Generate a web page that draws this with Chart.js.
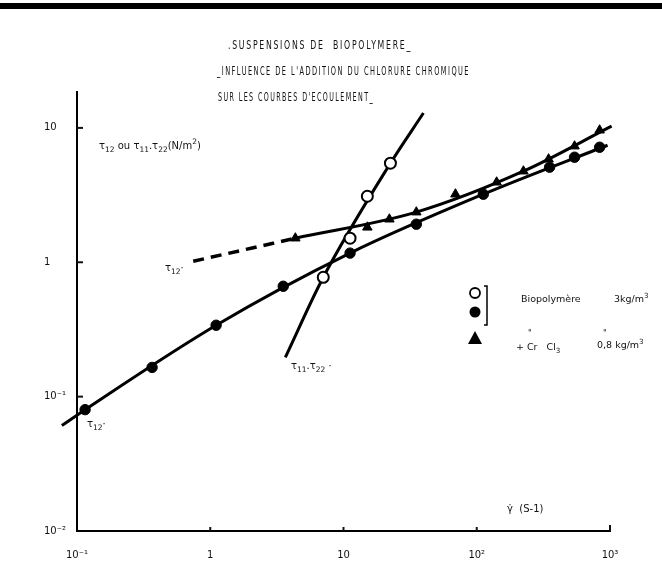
<!DOCTYPE html>
<html>
<head>
<meta charset="utf-8">
<script src="https://cdn.jsdelivr.net/npm/chart.js@4"></script>
<style>
html,body{margin:0;padding:0;background:#fff;}
#wrap{width:662px;height:564px;position:relative;}
</style>
</head>
<body>
<div id="wrap"><canvas id="c" width="662" height="564"></canvas></div>
<script>
// ---- data ----
const xTickValues = [0.1, 1, 10, 100, 1000];
const xTickLabels = ['10\u207B\u00B9', '1', '10', '10\u00B2', '10\u00B3'];
const yTickValues = [0.01, 0.1, 1, 10];
const yTickLabels = ['10\u207B\u00B2', '10\u207B\u00B9', '1', '10'];

// open circles : tau11 - tau22, biopolymer 3 kg/m3
const rateOpen = [7.05, 11.2, 15.1, 22.5];
const stressOpen = [0.773, 1.51, 3.10, 5.46];
const rateOpenCurve = [3.66, 7.05, 22.5, 39.8];
const stressOpenCurve = [0.196, 0.773, 5.46, 12.9];

// filled circles : tau12, biopolymer 3 kg/m3
const rateFilled = [0.115, 0.366, 1.107, 3.53, 11.2, 35.2, 112, 352, 542, 836];
const stressFilled = [0.080, 0.165, 0.340, 0.663, 1.17, 1.92, 3.21, 5.10, 6.05, 7.18];
const rateFilledCurve = [0.077, 0.115, 1.107, 11.2, 112, 959];
const stressFilledCurve = [0.061, 0.080, 0.340, 1.17, 3.21, 7.43];

// triangles : tau12, biopolymer + CrCl3 0.8 kg/m3
const rateTri = [4.35, 15.1, 22.1, 35.2, 69.2, 141, 224, 346, 542, 836];
const stressTri = [1.51, 1.82, 2.09, 2.36, 3.21, 3.94, 4.76, 5.85, 7.31, 9.61];
const rateTriCurve = [4.35, 35.2, 224, 1028];
const stressTriCurve = [1.51, 2.36, 4.76, 10.3];
const rateTriDashed = [0.745, 4.35];
const stressTriDashed = [1.017, 1.51];

const titleLines = ['.SUSPENSIONS DE  BIOPOLYMERE_', '_INFLUENCE DE L\'ADDITION DU CHLORURE CHROMIQUE', 'SUR LES COURBES D\'ECOULEMENT_'];

function pts(xs, ys){ return xs.map((x,i)=>({x:x, y:ys[i]})); }

const FONT = '"DejaVu Sans", "Liberation Sans", sans-serif';
const TFONT = '"DejaVu Sans", "Liberation Sans", sans-serif';
const INK = '#111';

function richText(ctx, x, y, segs, size, align){
  ctx.textBaseline = 'middle';
  ctx.textAlign = 'left';
  let w = 0;
  segs.forEach(s=>{
    const fs = (s.sub||s.sup) ? size*0.75 : size;
    ctx.font = fs + 'px ' + FONT;
    w += ctx.measureText(s.t).width;
  });
  let cx = align === 'center' ? x - w/2 : x;
  segs.forEach(s=>{
    const fs = (s.sub||s.sup) ? size*0.75 : size;
    ctx.font = fs + 'px ' + FONT;
    const dy = s.sub ? size*0.38 : (s.sup ? -size*0.42 : 0);
    ctx.fillText(s.t, cx, y+dy);
    cx += ctx.measureText(s.t).width;
  });
}

// draw a title line between x1 and x2: letters spaced, glyphs squeezed horizontally
function fitText(ctx, text, x1, x2, y, size){
  ctx.save();
  ctx.font = size + 'px ' + TFONT;
  ctx.textBaseline = 'middle';
  ctx.textAlign = 'left';
  ctx.letterSpacing = (size*0.22).toFixed(2) + 'px';
  const w = ctx.measureText(text).width;
  const sx = (x2 - x1) / w;
  ctx.translate(x1, y);
  ctx.scale(sx, 1);
  ctx.fillText(text, 0, 0);
  ctx.restore();
}

const decor = {
  id: 'decor',
  beforeDraw(chart){
    const ctx = chart.ctx;
    ctx.save();
    ctx.fillStyle = '#fff';
    ctx.fillRect(0,0,chart.width,chart.height);
    ctx.restore();
  },
  afterDraw(chart){
    const ctx = chart.ctx;
    const xs = chart.scales.x, ys = chart.scales.y;
    const ca = chart.chartArea;
    ctx.save();
    ctx.strokeStyle = INK;
    // top thick rule
    ctx.fillStyle = '#000';
    ctx.fillRect(0, 3, chart.width, 6);
    ctx.fillStyle = INK;

    // title
    fitText(ctx, titleLines[0], 228, 412, 46, 12);
    fitText(ctx, titleLines[1], 217, 470, 72, 12);
    fitText(ctx, titleLines[2], 218, 374, 98, 12);

    // axis ticks (inward)
    ctx.lineWidth = 2;
    [0.1, 1, 10].forEach(v=>{
      const py = ys.getPixelForValue(v);
      ctx.beginPath(); ctx.moveTo(ca.left, py); ctx.lineTo(ca.left+6, py); ctx.stroke();
    });
    [1, 10, 100].forEach(v=>{
      const px = xs.getPixelForValue(v);
      ctx.beginPath(); ctx.moveTo(px, ca.bottom); ctx.lineTo(px, ca.bottom-4); ctx.stroke();
    });
    const pxe = xs.getPixelForValue(1000);
    ctx.beginPath(); ctx.moveTo(pxe, ca.bottom); ctx.lineTo(pxe, ca.bottom-6); ctx.stroke();

    // axis titles and curve labels
    richText(ctx, 99, 146, [{t:'\u03C4'},{t:'12',sub:true},{t:' ou '},{t:'\u03C4'},{t:'11',sub:true},{t:'.'},{t:'\u03C4'},{t:'22',sub:true},{t:'(N/m'},{t:'2',sup:true},{t:')'}], 10);
    richText(ctx, 165, 268, [{t:'\u03C4'},{t:'12',sub:true},{t:'\u00B7'}], 10);
    richText(ctx, 87, 424, [{t:'\u03C4'},{t:'12',sub:true},{t:'\u00B7'}], 10);
    richText(ctx, 291, 366, [{t:'\u03C4'},{t:'11',sub:true},{t:'.'},{t:'\u03C4'},{t:'22',sub:true},{t:' \u00B7'}], 10);
    richText(ctx, 507, 509, [{t:'\u03B3\u0307'},{t:'  (S-1)'}], 10);

    // legend
    ctx.lineWidth = 1.8;
    ctx.strokeStyle = '#000';
    ctx.fillStyle = '#fff';
    ctx.beginPath(); ctx.arc(475, 293, 5, 0, Math.PI*2); ctx.fill(); ctx.stroke();
    ctx.fillStyle = '#000';
    ctx.beginPath(); ctx.arc(475, 312, 5.5, 0, Math.PI*2); ctx.fill();
    ctx.beginPath(); ctx.moveTo(475, 331); ctx.lineTo(482, 344); ctx.lineTo(468, 344); ctx.closePath(); ctx.fill();
    ctx.lineWidth = 1.5;
    ctx.beginPath(); ctx.moveTo(484, 286); ctx.lineTo(487, 286); ctx.lineTo(487, 325); ctx.lineTo(484, 325); ctx.stroke();
    ctx.fillStyle = INK;
    richText(ctx, 521, 300, [{t:'Biopolym\u00E8re'}], 9.5);
    richText(ctx, 614, 300, [{t:'3kg/m'},{t:'3',sup:true}], 9.5);
    richText(ctx, 528, 334, [{t:'"'}], 8);
    richText(ctx, 603, 334, [{t:'"'}], 8);
    richText(ctx, 516, 348, [{t:'+ Cr   Cl'},{t:'3',sub:true}], 9.5);
    richText(ctx, 597, 346, [{t:'0,8 kg/m'},{t:'3',sup:true}], 9.5);
    ctx.restore();
  }
};

const lineStyle = {showLine:true, pointRadius:0, borderColor:'#000', borderWidth:3, fill:false, clip:false, cubicInterpolationMode:'monotone'};

new Chart(document.getElementById('c'), {
  type: 'scatter',
  data: {
    datasets: [
      {label:'open', data: pts(rateOpen, stressOpen), pointStyle:'circle', pointRadius:5.5, pointBackgroundColor:'#fff', pointBorderColor:'#000', pointBorderWidth:2, showLine:false, clip:false},
      {label:'filled', data: pts(rateFilled, stressFilled), pointStyle:'circle', pointRadius:5.2, pointBackgroundColor:'#000', pointBorderColor:'#000', pointBorderWidth:1, showLine:false, clip:false},
      {label:'tri', data: pts(rateTri, stressTri), pointStyle:'triangle', pointRadius:5.5, pointBackgroundColor:'#000', pointBorderColor:'#000', pointBorderWidth:1, showLine:false, clip:false},
      Object.assign({label:'openCurve', data: pts(rateOpenCurve, stressOpenCurve)}, lineStyle),
      Object.assign({label:'filledCurve', data: pts(rateFilledCurve, stressFilledCurve)}, lineStyle),
      Object.assign({label:'triCurve', data: pts(rateTriCurve, stressTriCurve)}, lineStyle),
      Object.assign({label:'triDashed', data: pts(rateTriDashed, stressTriDashed)}, lineStyle, {borderWidth:3.5, borderDash:[11,7]})
    ]
  },
  options: {
    responsive:false,
    animation:false,
    devicePixelRatio:1,
    layout:{padding:{left:44, top:92, right:52, bottom:0}},
    plugins:{legend:{display:false}, tooltip:{enabled:false}, title:{display:false}},
    scales:{
      x:{
        type:'logarithmic', min:0.1, max:1000,
        afterBuildTicks(s){ s.ticks = xTickValues.map(v=>({value:v})); },
        afterFit(s){ s.height = 33; },
        grid:{display:true, drawOnChartArea:false, drawTicks:false},
        border:{display:true, color:'#000', width:2},
        ticks:{padding:18, color:INK, font:{family:FONT, size:10}, maxRotation:0, autoSkip:false,
          callback(v){ const i = xTickValues.indexOf(v); return i>=0 ? xTickLabels[i] : ''; }}
      },
      y:{
        type:'logarithmic', min:0.01, max:18.5,
        afterBuildTicks(s){ s.ticks = yTickValues.map(v=>({value:v})); },
        afterFit(s){ s.width = 33; },
        grid:{display:true, drawOnChartArea:false, drawTicks:false},
        border:{display:true, color:'#000', width:2},
        ticks:{padding:8, crossAlign:'far', color:INK, font:{family:FONT, size:10}, autoSkip:false,
          callback(v){ const i = yTickValues.indexOf(v); return i>=0 ? yTickLabels[i] : ''; }}
      }
    }
  },
  plugins:[decor]
});
</script>
</body>
</html>
